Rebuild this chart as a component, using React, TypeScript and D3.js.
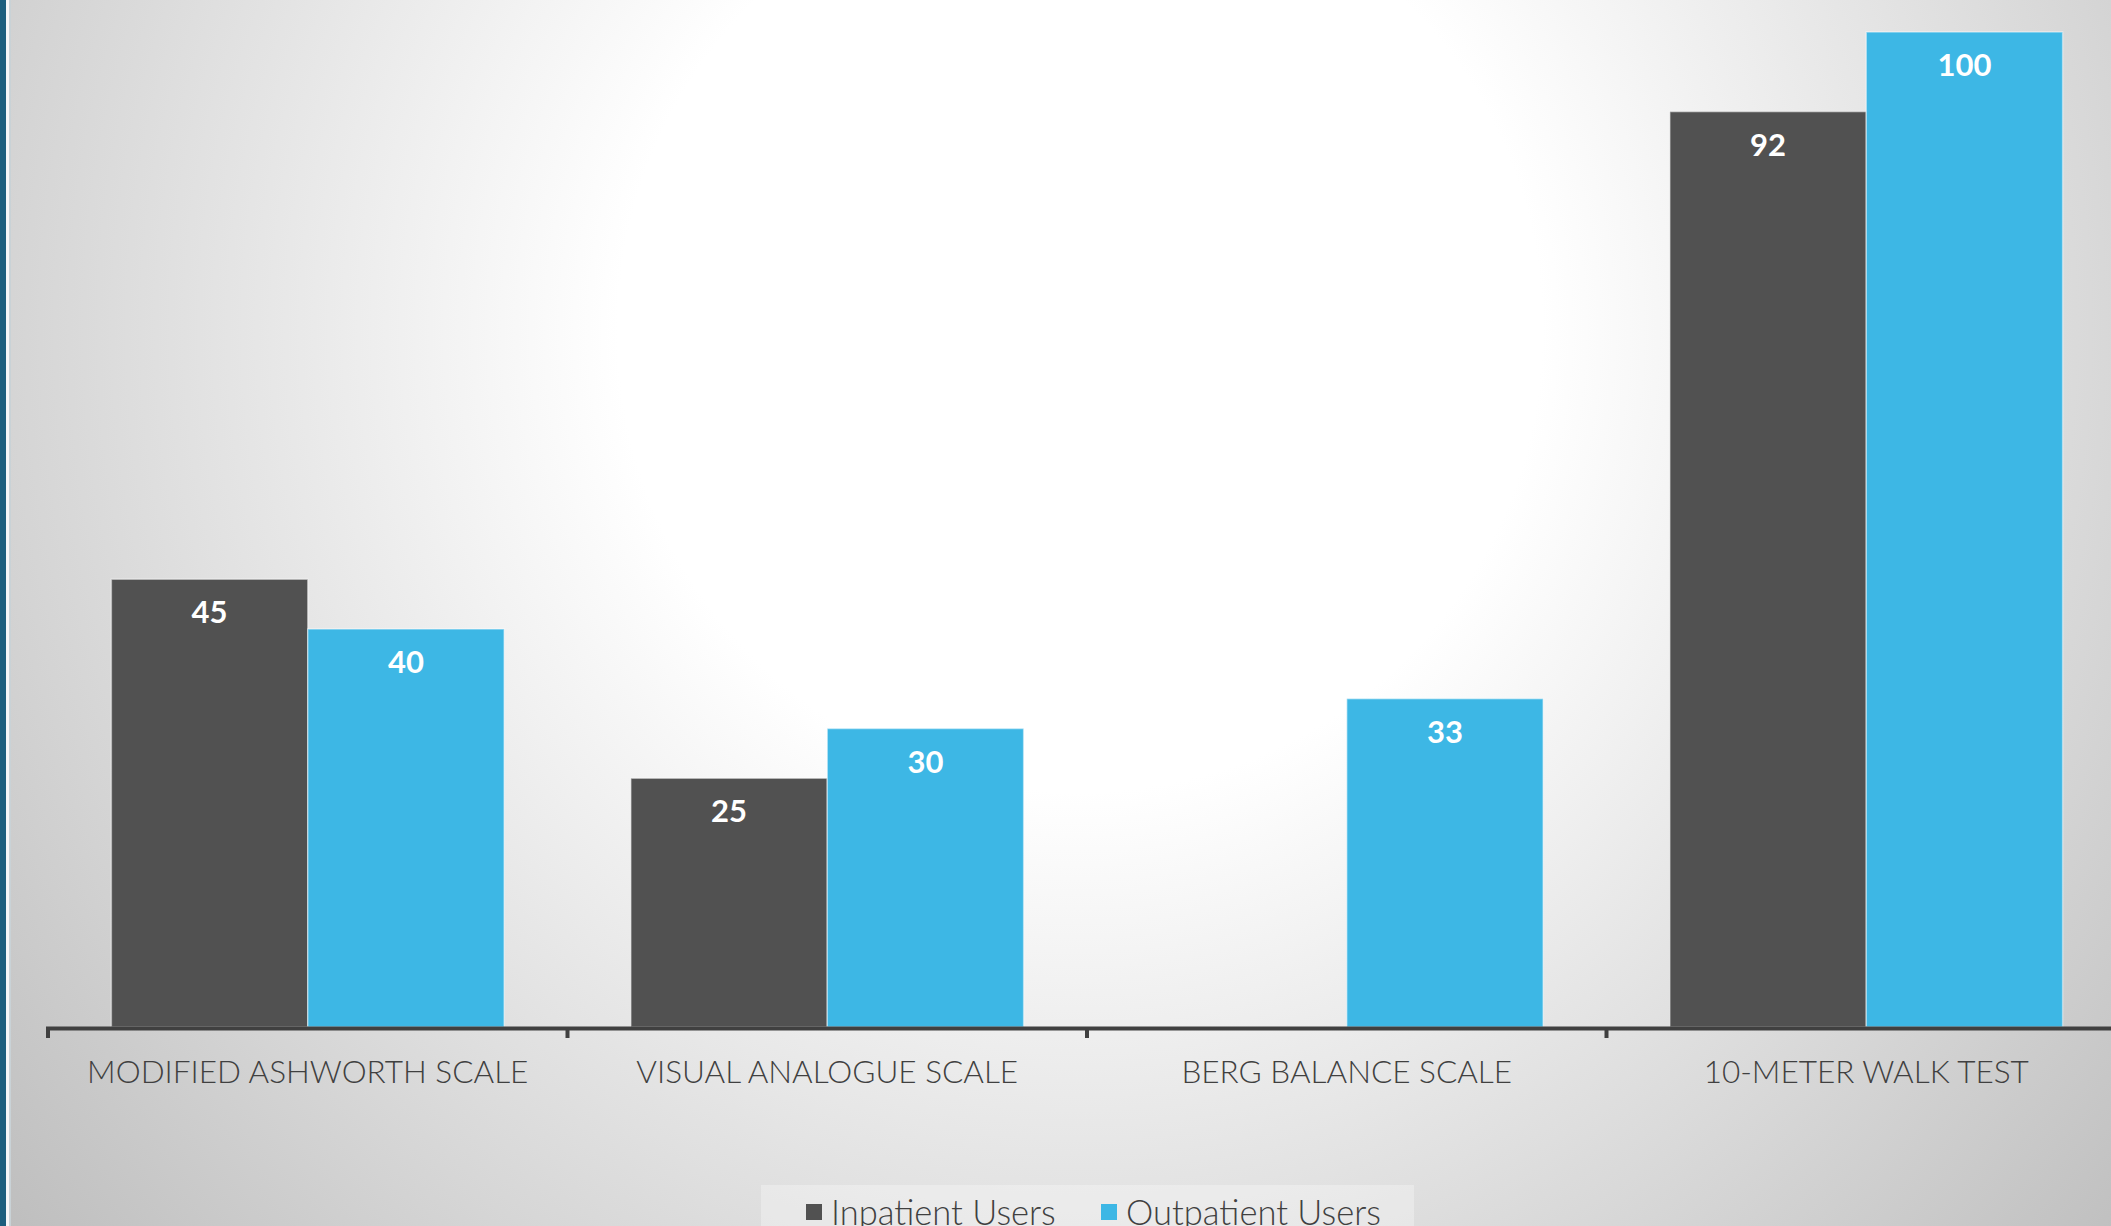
import React from "react";
import * as d3 from "d3";

const categories = ["MODIFIED ASHWORTH SCALE", "VISUAL ANALOGUE SCALE", "BERG BALANCE SCALE", "10-METER WALK TEST"];
const seriesNames = ["Inpatient Users", "Outpatient Users"];
const inpatient: (number | null)[] = [45, 25, null, 92];
const outpatient: (number | null)[] = [40, 30, 33, 100];
const seriesColors = ["#515151", "#3db7e5"];

const W = 2111;
const H = 1226;

export default function App() {
  const x0 = d3.scaleBand<string>().domain(categories).range([48, 2126]).padding(0);
  const bw = x0.bandwidth();
  const x1 = d3.scaleBand<string>().domain(seriesNames).range([bw * 0.122, bw * 0.878]).padding(0);
  const y = d3.scaleLinear().domain([0, 100]).range([1027, 32]);
  const values = [inpatient, outpatient];
  const baseY = y(0);

  return (
    <svg width={W} height={H} style={{ position: "absolute", left: 0, top: 0 }} fontFamily="Lato, 'Open Sans', sans-serif">
      <defs>
        <radialGradient id="bg" gradientUnits="userSpaceOnUse" cx={1080} cy={330} r={1400}>
          <stop offset="0" stopColor="#ffffff" />
          <stop offset="0.33" stopColor="#ffffff" />
          <stop offset="1" stopColor="#bebebe" />
        </radialGradient>
      </defs>
      <rect x={0} y={0} width={W} height={H} fill="url(#bg)" />
      <rect x={0} y={0} width={6} height={H} fill="#1b5e7d" />
      <rect x={6} y={0} width={3} height={H} fill="#f4f6f7" />
      <rect x={9} y={0} width={2} height={H} fill="#c9d2d6" />

      {categories.map((c, ci) => (
        <g key={c} transform={`translate(${x0(c)},0)`}>
          {seriesNames.map((s, si) => {
            const v = values[si][ci];
            if (v == null) return null;
            const bx = x1(s)!;
            const top = y(v);
            return (
              <g key={s}>
                <rect x={bx} y={top} width={x1.bandwidth()} height={baseY - top} fill={seriesColors[si]} stroke="rgba(255,255,255,0.45)" strokeWidth={1.5} />
                <text x={bx + x1.bandwidth() / 2} y={top + 44} textAnchor="middle" fill="#ffffff" fontWeight={700} fontSize={31}>
                  {v}
                </text>
              </g>
            );
          })}
          <text x={bw / 2} y={1083} textAnchor="middle" fill="#404040" fontWeight={300} fontSize={31.5}>
            {c}
          </text>
        </g>
      ))}

      <line x1={46} x2={W} y1={1028.5} y2={1028.5} stroke="#404040" strokeWidth={4} />
      {categories.map((c) => (
        <line key={c} x1={x0(c)!} x2={x0(c)!} y1={1027} y2={1038} stroke="#404040" strokeWidth={4} />
      ))}

      <rect x={761} y={1185} width={653} height={41} fill="#ffffff" opacity={0.3} />
      {seriesNames.map((s, i) => {
        const lx = [806, 1101][i];
        return (
          <g key={s}>
            <rect x={lx} y={1204} width={16} height={16} fill={seriesColors[i]} />
            <text x={lx + 25} y={1225} fill="#404040" fontWeight={300} fontSize={34.5}>
              {s}
            </text>
          </g>
        );
      })}
    </svg>
  );
}
